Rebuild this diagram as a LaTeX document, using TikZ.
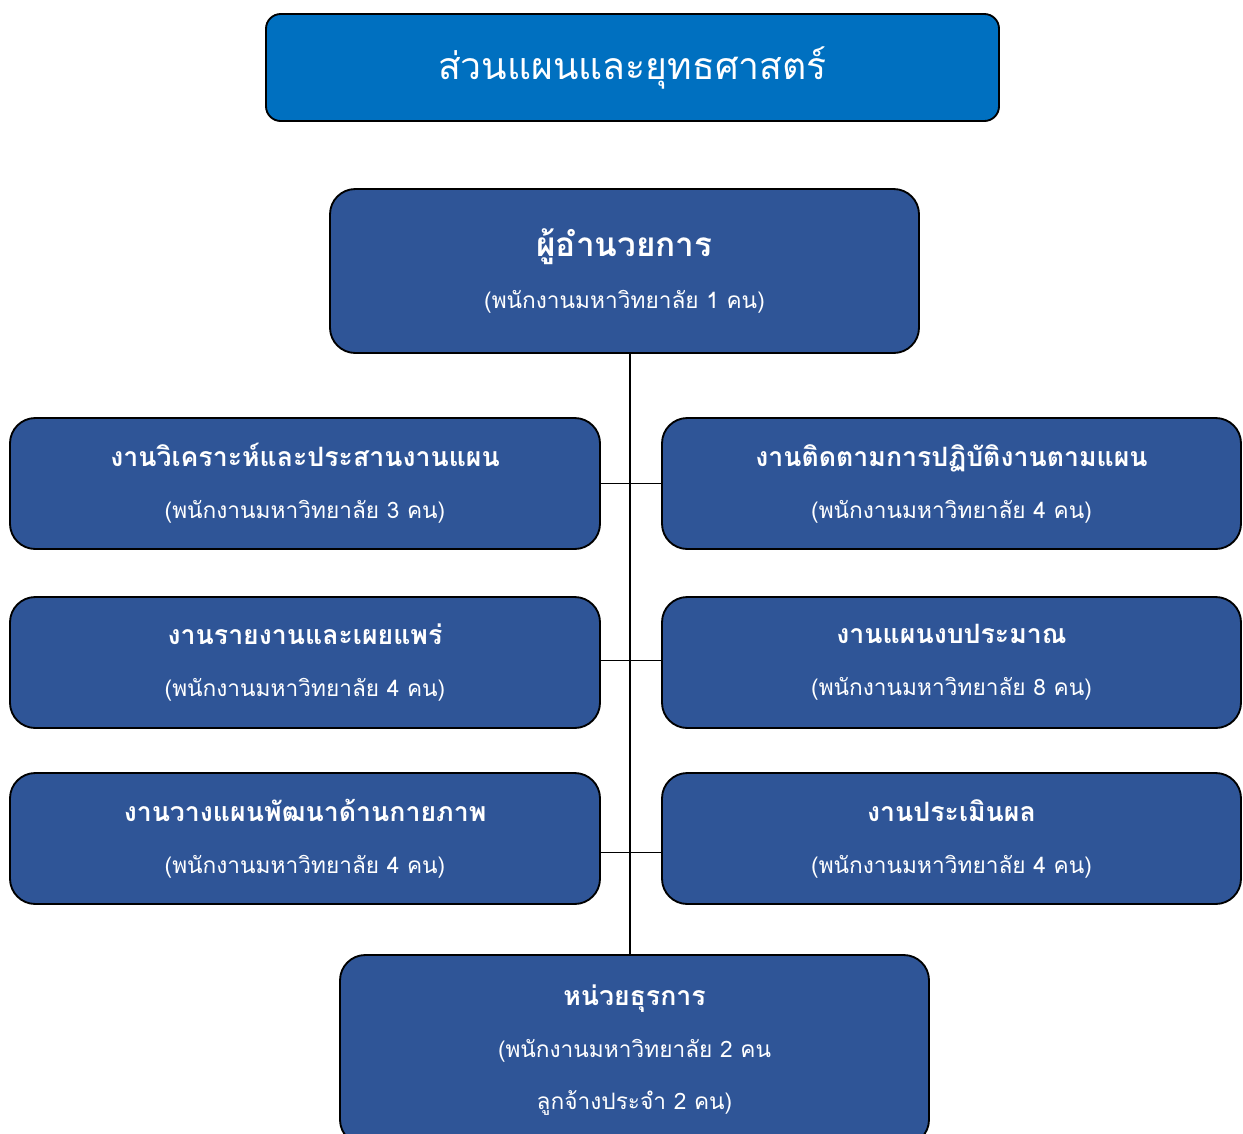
\documentclass[tikz,border=0pt]{standalone}
\usepackage{fontspec}
\newfontfamily\thaifont[Script=Thai]{Loma}
\usetikzlibrary{positioning}
\definecolor{titleblue}{HTML}{0070C0}
\definecolor{unitblue}{HTML}{2F5597}
\newcommand{\hd}[1]{{\bfseries\fontsize{20}{39}\selectfont #1}}

\begin{document}
\begin{tikzpicture}[x=0.75pt,y=-0.75pt,
    unit/.style={draw=black,line width=1.4pt,fill=unitblue,rounded corners=19pt,
      text=white,align=center,inner sep=0pt,
      font=\thaifont\fontsize{17}{39}\selectfont,
      minimum width=442.5pt,minimum height=98.25pt},
    link/.style={line width=1.4pt}]
    \useasboundingbox(0,0)rectangle(1243,1133);
    \node[unit,fill=titleblue,rounded corners=11pt,minimum width=549.75pt,minimum height=80.25pt,
      font=\thaifont\fontsize{28}{39}\selectfont](title)at(632.5,67.5){ส่วนแผนและยุทธศาสตร์};
    \node[unit,minimum width=441.75pt,minimum height=123pt](dir)at(624.5,271)
      {{\bfseries\fontsize{25}{42}\selectfont ผู้อำนวยการ}\\(พนักงานมหาวิทยาลัย 1 คน)};
    \node[unit](ana)at(305,483.5){\hd{งานวิเคราะห์และประสานงานแผน}\\(พนักงานมหาวิทยาลัย 3 คน)};
    \node[unit](rep)at(305,662.5){\hd{งานรายงานและเผยแพร่}\\(พนักงานมหาวิทยาลัย 4 คน)};
    \node[unit](phy)at(305,838.5){\hd{งานวางแผนพัฒนาด้านกายภาพ}\\(พนักงานมหาวิทยาลัย 4 คน)};
    \node[unit,minimum width=434.25pt](mon)at(951.5,483.5){\hd{งานติดตามการปฏิบัติงานตามแผน}\\(พนักงานมหาวิทยาลัย 4 คน)};
    \node[unit,minimum width=434.25pt](bud)at(951.5,662.5){\hd{งานแผนงบประมาณ}\\(พนักงานมหาวิทยาลัย 8 คน)};
    \node[unit,minimum width=434.25pt](eva)at(951.5,838.5){\hd{งานประเมินผล}\\(พนักงานมหาวิทยาลัย 4 คน)};
    \node[unit,minimum width=441.75pt,minimum height=142.5pt](adm)at(634.5,1050)
      {\hd{หน่วยธุรการ}\\(พนักงานมหาวิทยาลัย 2 คน\\ลูกจ้างประจำ 2 คน)};
    \coordinate(spine)at(630,0);
    \draw[link](dir.south-|spine)--(adm.north-|spine);
    \draw[link](ana.east)--(mon.west);
    \draw[link]([yshift=1.5pt]rep.east)--([yshift=1.5pt]bud.west);
    \draw[link]([yshift=-10.5pt]phy.east)--([yshift=-10.5pt]eva.west);
\end{tikzpicture}
\end{document}
